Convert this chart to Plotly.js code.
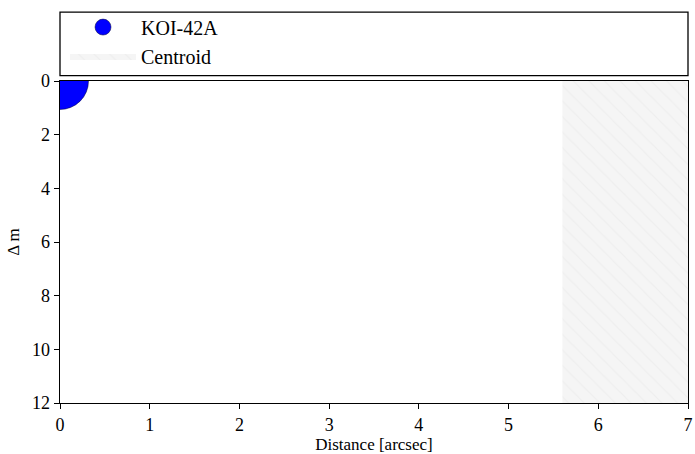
<!DOCTYPE html>
<html>
<head>
<meta charset="utf-8">
<script src="https://cdn.plot.ly/plotly-3.0.1.min.js"></script>
<style>html,body{margin:0;padding:0;background:#fff}#chart{width:695px;height:454px}</style>
</head>
<body>
<div id="chart"></div>
<script>
// Companion star data
var starNames = ['KOI-42A'];
var starDistance = [0];      // arcsec
var starDeltaMag = [0];      // Δ m

// Centroid exclusion region (distance range, Δm range)
var centroidDistance = [5.6, 7, 7, 5.6, 5.6];
var centroidDeltaMag = [0, 0, 12, 12, 0];

// Axis ticks
var xTicks = [0, 1, 2, 3, 4, 5, 6, 7];
var yTicks = [0, 2, 4, 6, 8, 10, 12];

var font = 'Liberation Serif, serif';

var traces = [
  {
    type: 'scatter', mode: 'markers', name: starNames[0],
    x: starDistance, y: starDeltaMag,
    marker: {size: 57, color: '#0000ff', line: {color: '#000033', width: 0.5}},
    cliponaxis: true, hoverinfo: 'skip'
  },
  {
    type: 'scatter', mode: 'lines', name: 'Centroid',
    x: centroidDistance, y: centroidDeltaMag,
    fill: 'toself', fillcolor: '#f5f5f5',
    fillpattern: {shape: '\\', bgcolor: '#f5f5f5', fgcolor: '#eeeeee', size: 11, solidity: 0.1},
    line: {width: 0, color: 'rgba(0,0,0,0)'},
    hoverinfo: 'skip'
  }
];

var layout = {
  width: 695, height: 454,
  margin: {l: 60, r: 7, t: 78, b: 51},
  paper_bgcolor: '#ffffff', plot_bgcolor: '#ffffff',
  font: {family: font, size: 18, color: '#000'},
  showlegend: true,
  legend: {
    x: 0.008, xanchor: 'left', y: 1.228, yanchor: 'top',
    bgcolor: 'rgba(0,0,0,0)', borderwidth: 0,
    font: {family: font, size: 20, color: '#000'},
    itemwidth: 66, tracegroupgap: 0
  },
  xaxis: {
    range: [0, 7], tickvals: xTicks, ticktext: xTicks.map(String),
    showgrid: false, zeroline: false,
    showline: true, linecolor: '#000', linewidth: 1.3, mirror: true,
    ticks: 'outside', ticklen: 5, tickcolor: '#000', tickwidth: 1,
    tickfont: {family: font, size: 18},
    title: {text: 'Distance [arcsec]', font: {family: font, size: 17}, standoff: 6}
  },
  yaxis: {
    range: [12, 0], tickvals: yTicks, ticktext: yTicks.map(String),
    showgrid: false, zeroline: false,
    showline: true, linecolor: '#000', linewidth: 1.3, mirror: true,
    ticks: 'outside', ticklen: 5, tickcolor: '#000', tickwidth: 1,
    tickfont: {family: font, size: 18},
    title: {text: 'Δ m', font: {family: font, size: 17}, standoff: 8}
  },
  shapes: [
    {type: 'rect', xref: 'paper', yref: 'paper', x0: 0, x1: 1, y0: 1.017, y1: 1.214,
     line: {color: '#000', width: 1.3}, fillcolor: 'rgba(0,0,0,0)', layer: 'above'}
  ]
};

Plotly.newPlot('chart', traces, layout, {staticPlot: true, displayModeBar: false});
</script>
</body>
</html>
